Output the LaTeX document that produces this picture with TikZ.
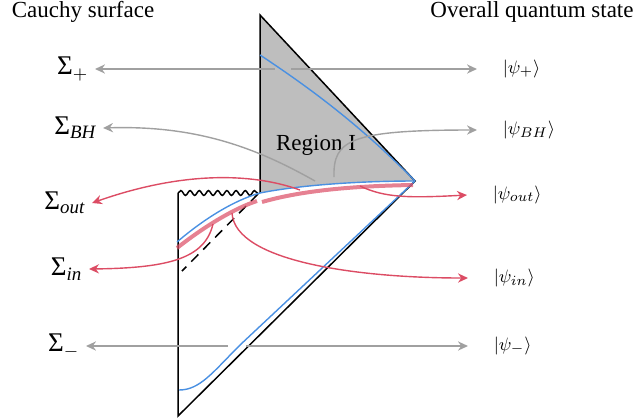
\documentclass[tikz,border=0pt]{standalone}
\usepackage{fontspec}
\setmainfont{Liberation Serif}
\usetikzlibrary{arrows.meta,decorations.pathmorphing}
\definecolor{sliceblue}{RGB}{74,144,226}
\definecolor{slicered}{RGB}{220,76,100}
\definecolor{regiongray}{RGB}{190,190,190}
\definecolor{arrowgray}{RGB}{160,160,160}
\begin{document}
\begin{tikzpicture}[x=0.5pt,y=-0.5pt,line width=0.75pt,
    font=\fontsize{11.5}{14}\selectfont,
    outline/.style={line join=miter},
    singularity/.style={decorate,decoration={snake,amplitude=1.2pt,segment length=4.6pt}},
    horizon/.style={dash pattern=on 5pt off 3.5pt},
    slice/.style={sliceblue,line width=0.7pt},
    thickslice/.style={slicered,opacity=0.7,line width=2pt},
    pointer/.style={arrowgray,line width=0.7pt,-{Stealth[length=5pt,width=4.6pt]}},
    redpointer/.style={slicered,line width=0.7pt,-{Stealth[length=5pt,width=4.6pt]}},
    sigmalabel/.style={anchor=east,inner xsep=3pt,font=\fontsize{13.5}{16}\selectfont},
    ketlabel/.style={anchor=west,inner xsep=12.5pt,font=\fontsize{9.5}{12}\selectfont}]
    \path[use as bounding box] (0,0) rectangle (642,419);
    % region I
    \fill[regiongray] (260,15) -- (415,181)
      .. controls (360,181) and (300,185) .. (260,193) -- cycle;
    \draw[outline] (260,193) -- (260,15) -- (415,181) -- (178,416) -- (178,193);
    \draw[singularity] (178,193) -- (258,193);
    \draw[horizon] (258,194) -- (182,271);
    % slices
    \draw[slice] (260,55) .. controls (310,88) and (360,125) .. (415,181);
    \draw[slice] (177,242) .. controls (205,218) and (235,200) .. (260,193)
      .. controls (300,185) and (360,181) .. (415,181);
    \draw[slice] (179,390) .. controls (200,390) and (213,372) .. (240,345) -- (415,181);
    \draw[thickslice] (177,248) .. controls (205,226) and (235,208) .. (257,201);
    \draw[thickslice] (262,202) .. controls (300,191) and (350,186) .. (413,185);
    % labels
    \node (cauchy) at (83,12) {Cauchy surface};
    \node (overall) at (532,12) {Overall quantum state};
    \node (region) at (316,145) {Region I};
    \node[sigmalabel] (sigplus) at (95,69) {Σ$_{+}$};
    \node[sigmalabel] (sigbh) at (103,128) {Σ\textsubscript{\itshape BH}};
    \node[sigmalabel] (sigout) at (92,203) {Σ\textsubscript{\itshape out}};
    \node[sigmalabel] (sigin) at (89,269) {Σ\textsubscript{\itshape in}};
    \node[sigmalabel] (sigminus) at (86,346) {Σ$_{-}$};
    \node[ketlabel] (ketplus) at (477,69) {$|\psi_+\rangle$};
    \node[ketlabel] (ketbh) at (477,130) {$|\psi_{BH}\rangle$};
    \node[ketlabel] (ketout) at (467,195) {$|\psi_{out}\rangle$};
    \node[ketlabel] (ketin) at (468,278) {$|\psi_{in}\rangle$};
    \node[ketlabel] (ketminus) at (468,346) {$|\psi_-\rangle$};
    % arrow roots
    \coordinate (plusl) at (275,69);
    \coordinate (plusr) at (291,69);
    \coordinate (bhl) at (315,181);
    \coordinate (bhr) at (334,177);
    \coordinate (outl) at (300,190);
    \coordinate (outr) at (360,186);
    \coordinate (inl) at (213,224);
    \coordinate (inr) at (232,213);
    \coordinate (minusl) at (228,346);
    \coordinate (minusr) at (246,346);
    \draw[pointer] (plusl) -- (sigplus.east);
    \draw[pointer] (plusr) -- (ketplus.west);
    \draw[pointer] (bhl) .. controls (260,150) and (200,125) .. (sigbh.east);
    \draw[pointer] (bhr) .. controls (333,140) and (350,130) .. (ketbh.west);
    \draw[redpointer] (outl) .. controls (250,172) and (180,172) .. (sigout.east);
    \draw[redpointer] (outr) .. controls (385,198) and (410,198) .. (ketout.west);
    \draw[redpointer] (inl) .. controls (205,258) and (170,268) .. (sigin.east);
    \draw[redpointer] (inr) .. controls (235,262) and (360,278) .. (ketin.west);
    \draw[pointer] (minusl) -- (sigminus.east);
    \draw[pointer] (minusr) -- (ketminus.west);
  \end{tikzpicture}
\end{document}
